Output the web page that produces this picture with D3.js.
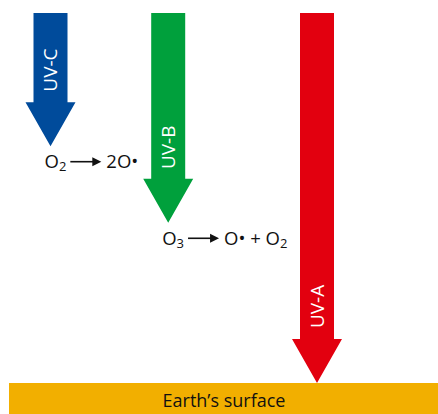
<!DOCTYPE html>
<html><head><meta charset="utf-8">
<script src="https://cdn.jsdelivr.net/npm/d3@7"></script>
<style>body{margin:0;background:#fff}svg{display:block}</style>
</head><body>
<svg id="c" width="438" height="414"></svg>
<script>
// Data
const bands = ["UV-C", "UV-B", "UV-A"];
const wavelength = [250, 303, 370];          // representative wavelength (nm)
const penetration = [0.36, 0.567, 1.0];      // fraction of depth down to Earth's surface
const bandColors = ["#004b9b", "#00a03c", "#e2000f"];
const reactions = [
  {band: "UV-C", parts: [["O", "2"], "→", ["2O•", ""]]},
  {band: "UV-B", parts: [["O", "3"], "→", ["O• + O", "2"]]}
];
const surfaceLabel = "Earth’s surface";

const svg = d3.select("#c");
const W = 438, H = 414;
const x = d3.scaleLinear().domain([250, 370]).range([50.5, 317]);
const y = d3.scaleLinear().domain([0, 1]).range([13, 383]);
const shaftHalf = 17, headHalf = 25, headLen = 44;
const font = "'Open Sans', sans-serif";

// Earth's surface bar
svg.append("rect").attr("x", 9).attr("y", y(1)).attr("width", W - 9).attr("height", H - y(1))
  .attr("fill", "#f2af00");
svg.append("text").attr("x", 224).attr("y", 407).attr("text-anchor", "middle")
  .attr("font-family", font).attr("font-size", 18).attr("fill", "#111").text(surfaceLabel);

// arrows
bands.forEach((b, i) => {
  const cx = x(wavelength[i]), top = y(0), tip = y(penetration[i]);
  const hs = tip - headLen;
  const p = d3.path();
  p.moveTo(cx - shaftHalf, top); p.lineTo(cx + shaftHalf, top); p.lineTo(cx + shaftHalf, hs);
  p.lineTo(cx + headHalf, hs); p.lineTo(cx, tip); p.lineTo(cx - headHalf, hs);
  p.lineTo(cx - shaftHalf, hs); p.closePath();
  svg.append("path").attr("d", p.toString()).attr("fill", bandColors[i]);
  const ly = top + (hs - top) * [0.64, 0.81, 0.90][i];
  svg.append("text").attr("transform", `translate(${cx + 6.5},${ly}) rotate(-90)`)
    .attr("text-anchor", "middle").attr("font-family", font).attr("font-size", 19)
    .attr("fill", "#fff").text(b);
});

// reactions below arrow tips
reactions.forEach(r => {
  const i = bands.indexOf(r.band);
  const cx = x(wavelength[i]), tip = y(penetration[i]);
  const baseY = tip + 22;
  let cur = cx - 6;
  const g = svg.append("g");
  r.parts.forEach(part => {
    if (part === "→") {
      const x0 = cur + 4, x1 = x0 + 31;
      g.append("line").attr("x1", x0).attr("x2", x1 - 6).attr("y1", baseY - 6.5).attr("y2", baseY - 6.5)
        .attr("stroke", "#111").attr("stroke-width", 1.6);
      g.append("path").attr("d", `M${x1 - 9},${baseY - 11}L${x1},${baseY - 6.5}L${x1 - 9},${baseY - 2}Z`).attr("fill", "#111");
      cur = x1 + 5;
    } else {
      const t = g.append("text").attr("x", cur).attr("y", baseY).attr("font-family", font)
        .attr("font-size", 18.5).attr("fill", "#111");
      t.append("tspan").text(part[0]);
      if (part[1]) t.append("tspan").attr("font-size", 13).attr("dy", 3).text(part[1]);
      cur += t.node().getComputedTextLength();
    }
  });
});
</script>
</body></html>
